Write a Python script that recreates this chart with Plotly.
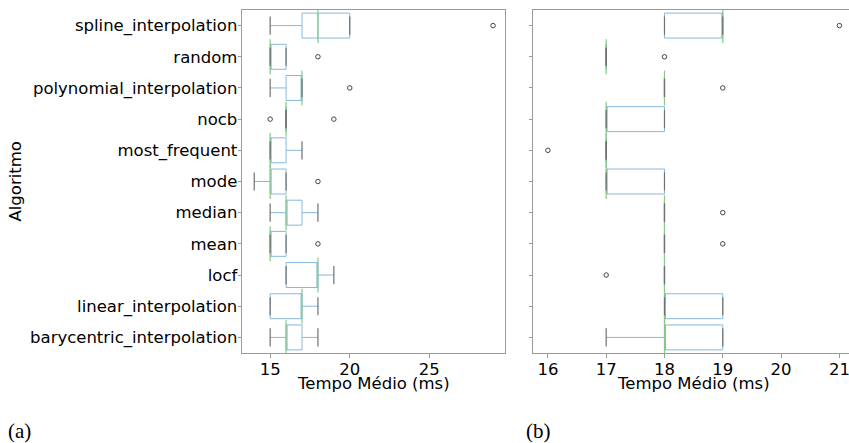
import plotly.graph_objects as go

W, H = 849, 443

# categories, top to bottom
categories = ["spline_interpolation", "random", "polynomial_interpolation", "nocb",
              "most_frequent", "mode", "median", "mean", "locf",
              "linear_interpolation", "barycentric_interpolation"]

# panel (a) statistics
a_low = [15, 15, 15, 16, 15, 14, 15, 15, 16, 15, 15]
a_q1 = [17, 15, 16, 16, 15, 15, 16, 15, 16, 15, 16]
a_med = [18, 15, 17, 16, 15, 15, 16, 15, 18, 17, 16]
a_q3 = [20, 16, 17, 16, 16, 16, 17, 16, 18, 17, 17]
a_high = [20, 16, 17, 16, 17, 16, 18, 16, 19, 18, 18]
a_out_cat = ["spline_interpolation", "random", "polynomial_interpolation", "nocb", "nocb", "mode", "mean"]
a_out_val = [29, 18, 20, 15, 19, 18, 18]

# panel (b) statistics
b_low = [18, 17, 18, 17, 17, 17, 18, 18, 18, 18, 17]
b_q1 = [18, 17, 18, 17, 17, 17, 18, 18, 18, 18, 18]
b_med = [19, 17, 18, 17, 17, 17, 18, 18, 18, 18, 18]
b_q3 = [19, 17, 18, 18, 17, 18, 18, 18, 18, 19, 19]
b_high = [19, 17, 18, 18, 17, 18, 18, 18, 18, 19, 19]
b_out_cat = ["spline_interpolation", "random", "polynomial_interpolation", "most_frequent",
             "median", "mean", "locf"]
b_out_val = [21, 18, 19, 16, 19, 19, 17]

x_a_ticks = [15, 20, 25]
x_b_ticks = [16, 17, 18, 19, 20, 21]

BOX_C = "#86b8de"
MED_C = "#86c886"
CAP_C = "#707070"
SPINE_C = "#9a9a9a"
FONT = "DejaVu Sans"
FS = 16.5

fig = go.Figure()


def add_panel(xa, ya, low, q1, med, q3, high, out_cat, out_val):
    fig.add_trace(go.Box(
        orientation="h", y=categories, q1=q1, median=med, q3=q3,
        lowerfence=low, upperfence=high, boxpoints=False,
        width=0.8, whiskerwidth=0, fillcolor="rgba(255,255,255,0)",
        line=dict(color=BOX_C, width=1), xaxis=xa, yaxis=ya, showlegend=False,
        hoverinfo="skip"))
    fig.add_trace(go.Scatter(
        x=med, y=categories, mode="markers", xaxis=xa, yaxis=ya, showlegend=False,
        marker=dict(symbol="line-ns", size=25, line=dict(color=MED_C, width=1.2)),
        hoverinfo="skip"))
    fig.add_trace(go.Scatter(
        x=low + high, y=categories + categories, mode="markers", xaxis=xa, yaxis=ya,
        showlegend=False,
        marker=dict(symbol="line-ns", size=13, line=dict(color=CAP_C, width=1.2)),
        hoverinfo="skip"))
    fig.add_trace(go.Scatter(
        x=out_val, y=out_cat, mode="markers", xaxis=xa, yaxis=ya, showlegend=False,
        marker=dict(symbol="circle-open", size=4.5, color="#444444", line=dict(width=1)),
        hoverinfo="skip"))


add_panel("x", "y", a_low, a_q1, a_med, a_q3, a_high, a_out_cat, a_out_val)
add_panel("x2", "y2", b_low, b_q1, b_med, b_q3, b_high, b_out_cat, b_out_val)

ydom = [1 - 353 / H, 1 - 10 / H]
cat_order = list(reversed(categories))
axis_common = dict(showgrid=False, zeroline=False, showline=True, linecolor=SPINE_C,
                   linewidth=1.3, ticks="outside", ticklen=3.5, tickcolor=SPINE_C,
                   tickfont=dict(family=FONT, size=FS, color="black"))

fig.update_layout(
    width=W, height=H, margin=dict(l=0, r=0, t=0, b=0),
    paper_bgcolor="white", plot_bgcolor="white",
    xaxis=dict(domain=[242.3 / W, 505 / W], range=[13.25, 29.75], tickvals=x_a_ticks,
               mirror=True, anchor="y", ticklabelstandoff=-2, **axis_common),
    yaxis=dict(domain=ydom, type="category", categoryorder="array", categoryarray=cat_order,
               range=[-0.5, 10.5], mirror=True, anchor="x", ticklabelstandoff=-3,
               **axis_common),
    xaxis2=dict(domain=[533.3 / W, 1.0], range=[15.75, 21.165], tickvals=x_b_ticks,
                mirror=True, anchor="y2", ticklabelstandoff=-2,
                ticklabeloverflow="allow", **axis_common),
    yaxis2=dict(domain=ydom, type="category", categoryorder="array", categoryarray=cat_order,
                range=[-0.5, 10.5], mirror=False, showticklabels=False, anchor="x2",
                **axis_common),
)

annos = [
    dict(text="Algoritmo", x=15 / W, y=1 - 181.5 / H, textangle=-90,
         font=dict(family=FONT, size=FS, color="black")),
    dict(text="Tempo Médio (ms)", x=373.7 / W, y=1 - 383 / H,
         font=dict(family=FONT, size=FS, color="black")),
    dict(text="Tempo Médio (ms)", x=693.7 / W, y=1 - 383 / H,
         font=dict(family=FONT, size=FS, color="black")),
    dict(text="(a)", x=19 / W, y=1 - 431 / H,
         font=dict(family="Liberation Serif", size=21, color="black")),
    dict(text="(b)", x=538.5 / W, y=1 - 431 / H,
         font=dict(family="Liberation Serif", size=21, color="black")),
]
for a in annos:
    fig.add_annotation(xref="paper", yref="paper", showarrow=False,
                       xanchor="center", yanchor="middle", **a)

fig.write_html("out.html", config={"displayModeBar": False},
               post_script="document.body.style.margin='0';document.body.style.overflow='hidden';")
